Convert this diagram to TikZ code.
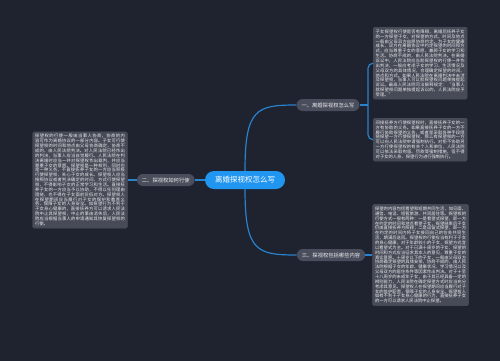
\documentclass[tikz,border=0pt]{standalone}
\usepackage{fontspec}
\setmainfont{Noto Sans CJK SC}
\XeTeXlinebreaklocale "zh"
\XeTeXlinebreakskip=0pt plus 0.6pt
\usetikzlibrary{positioning}
\definecolor{mapbg}{HTML}{1F2330}
\definecolor{mainblue}{HTML}{2196F0}
\definecolor{topicgrey}{HTML}{4A4E5C}
\definecolor{notegrey}{HTML}{474B58}
\definecolor{linkblue}{HTML}{2882CD}
\definecolor{notetext}{HTML}{EDEDED}
\pagecolor{mapbg}

\tikzset{
  hub/.style={fill=mainblue, text=white, rounded corners=9pt, minimum width=80pt,
              minimum height=18pt, inner sep=0pt, font=\fontsize{7.5}{9}\selectfont},
  branch/.style={fill=topicgrey, text=notetext, rounded corners=6pt,
                 minimum height=12pt, inner xsep=5pt, inner ysep=0pt,
                 font=\fontsize{5.3}{6}\selectfont},
  leaf/.style={fill=notegrey, draw=topicgrey, line width=0.4pt, rounded corners=1.5pt,
               text=notetext, align=justify, inner sep=2.5pt,
               font=\fontsize{4.3}{4.85}\selectfont},
  link/.style={draw=linkblue, line width=1.2pt}
}

\begin{document}
\begin{tikzpicture}[x=1pt, y=-1pt]
  \useasboundingbox (0,0) rectangle (500,360);
  \fill[fill=mapbg, rounded corners=2pt] (-4,-4) rectangle (504,364);

  % centre and branches
  \node[hub] (c) at (245,180) {离婚探视权怎么写};
  \node[branch] (b1) at (328,105) {一、离婚探视权怎么写};
  \node[branch, left=10pt of c] (b2) {二、探视权如何行使};
  \node[branch] (b3) at (331,255) {三、探视权包括哪些内容};

  % text boxes
  \node[leaf, anchor=north west, text width=89pt] (t1) at (373,27)
    {子女探望权行使是否有障碍，离婚后抚养子女的一方探望子女，对探望的方式、时间及地点一般由父母双方自愿协商约定。为子女的健康成长，双方在离婚协议中约定探望的时间和方式，应当尊重子女的意愿，兼顾子女的学习和生活。协商不成的，由人民法院判决。在离婚诉讼中，人民法院应当就探望权的行使一并作出判决，一般应考虑子女的学习、生活情况及父母双方的具体情况，合理确定探望的时间、地点和方式。如果人民法院在离婚判决中未涉及探望权，当事人可以就探望权问题单独提起诉讼。最高人民法院司法解释规定：“当事人就探望权问题单独提起诉讼的，人民法院应予受理。”};
  \node[leaf, anchor=north west, text width=89pt] (t2) at (373,118)
    {间接抚养方行使探望权时，直接抚养子女的一方有协助的义务。如果直接抚养子女的一方不履行协助探望的义务，或者是采取各种手段阻挠探望一方行使探望权，那么有探望权的一方可以向人民法院申请强制执行。对拒不协助另一方行使探望权的有关个人和单位，人民法院可以依法采取拘留、罚款等强制措施，但不得对子女的人身、探望行为进行强制执行。};
  \node[leaf, right=7pt of b3, text width=91pt] (t3)
    {探望的内容包括看望和短期共同生活，如见面、通信、电话、短暂旅游、共同居住等。探望权的行使方式一般有两种：一是看望式探望，即一方在约定的时间和地点看望子女，探望结束后子女仍由直接抚养方照顾；二是逗留式探望，即一方在约定的时间内将子女接回自己的住处共同生活，期满后送回。探望权的行使应当有利于子女的身心健康，对于年龄较小的子女，探望方式宜以看望式为主。对于已满十周岁的子女，探望的时间和方式应当征求其本人的意见，尊重子女的真实意愿。十周岁以下的子女，一般由父母双方协商确定探望的具体安排，协商不成的，由人民法院根据子女的年龄、健康状况、学习情况以及父母双方的居住条件等因素作出判决。对于十至十八周岁的未成年子女，由于其已经具备一定的辨别能力，人民法院在确定探望方式时应当充分考虑其意见。探望权人在探望期间应当履行对子女的监护职责，保障子女的人身安全。探望权人如有不利于子女身心健康的行为，直接抚养子女的一方可以请求人民法院中止探望。};
  \node[leaf, left=9pt of b2, text width=90pt] (t4)
    {探望权的行使一般由当事人协商，协商的内容可作为离婚协议的一部分内容。子女可行使探望权的时间和地点由父母协商确定，协商不成的，由人民法院判决。对人民法院已经作出的判决，当事人应当自觉履行。人民法院在判决离婚时应当一并对探望权作出裁判，并应当尊重子女的意愿。探望权是一种权利，同时也是一种义务，不直接抚养子女的一方应当积极行使探望权，关心子女的成长。探望权人应当按照协议或者判决确定的时间、方式行使探望权，不得影响子女的正常学习和生活。直接抚养子女的一方应当予以协助，不得以任何理由阻挠，也不得在子女面前贬低对方。探望权人在探望期间应当履行对子女的保护和教育义务，保障子女的人身安全。如探望行为不利于子女身心健康的，直接抚养方可以请求人民法院中止其探望权，中止的事由消失后，人民法院应当根据当事人的申请通知其恢复探望权的行使。};

  % connectors
  \coordinate (j1) at (368,105);
  \draw[link] (c.north) .. controls +(0,-62) and +(-40,0) .. (b1.west);
  \draw[link] (c.south) .. controls +(0,62) and +(-40,0) .. (b3.west);
  \draw[link] (c.west) -- (b2.east);
  \draw[link] (b2.west) -- (t4.east);
  \draw[link] (b3.east) -- (t3.west);
  \draw[link] (b1.east) -- (j1);
  \draw[link, rounded corners=5pt] (j1) |- (t1.west);
  \draw[link, rounded corners=5pt] (j1) |- (t2.west);
\end{tikzpicture}
\end{document}
